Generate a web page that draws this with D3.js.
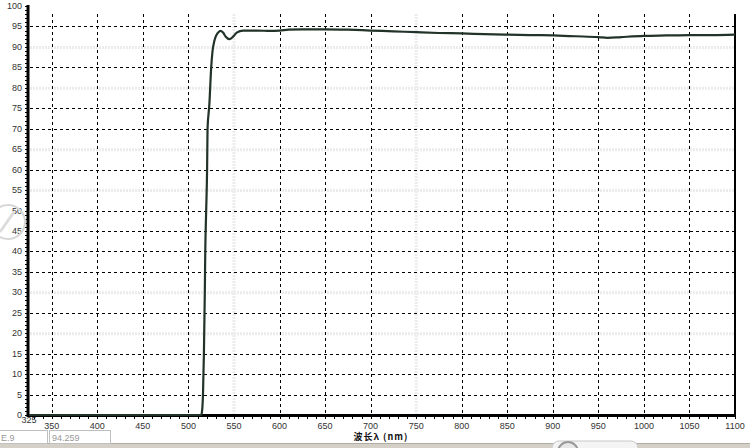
<!DOCTYPE html>
<html><head><meta charset="utf-8">
<script src="https://cdn.jsdelivr.net/npm/d3@7"></script>
<style>html,body{margin:0;padding:0;background:#fff;overflow:hidden}svg{display:block}</style>
</head><body>
<svg id="c" width="750" height="448"></svg>
<script>
// ---- data ----
const wavelength = [325,400,500,514,515,516,517,518,518.5,519.5,520.5,521,523,525,526.5,528.5,531,533,535,538,541,545,549,553,560,575,590,600,610,625,650,675,700,725,750,775,800,825,850,875,900,925,950,960,975,1000,1025,1050,1075,1100];
const transmittance = [0,0,0,0,1,5,15,30,40,50,60,70,76,85,89,91.5,93,93.6,93.9,93.5,92.5,91.9,92.5,93.5,94.0,94.0,93.9,94.0,94.2,94.3,94.3,94.2,94.0,93.8,93.6,93.4,93.3,93.1,93.0,92.9,92.8,92.6,92.4,92.2,92.4,92.7,92.8,92.9,92.9,93.0];
const xTickValues = [325,350,400,450,500,550,600,650,700,750,800,850,900,950,1000,1050,1100];
const yTickValues = [0,5,10,15,20,25,30,35,40,45,50,55,60,65,70,75,80,85,90,95,100];
const fadedXGrid = [550,750];
const fadedYGrid = [20,30,55,65,80,90];
const xTitle = "波长λ (nm)";
const statusTexts = ["E.9","94.259"];

const svg = d3.select("#c");
const x = d3.scaleLinear().domain([325,1100]).range([29,735]);
const y = d3.scaleLinear().domain([0,100]).range([415,6]);

// faded gridlines
const fg = svg.append("g");
fg.selectAll("line.fy").data(fadedYGrid).join("line")
  .attr("x1",30).attr("x2",734).attr("y1",d=>y(d)+0.5).attr("y2",d=>y(d)+0.5)
  .attr("stroke","#ececec").attr("stroke-width",3).attr("stroke-dasharray","2,1");
fg.selectAll("line.fx").data(fadedXGrid).join("line")
  .attr("x1",d=>x(d)).attr("x2",d=>x(d)).attr("y1",14).attr("y2",414)
  .attr("stroke","#ececec").attr("stroke-width",3).attr("stroke-dasharray","2,1");

// dashed gridlines
const gg = svg.append("g");
gg.selectAll("line.gy").data(yTickValues.filter(v=>v>0&&v<100&&!fadedYGrid.includes(v))).join("line")
  .attr("x1",30).attr("x2",734).attr("y1",d=>Math.round(y(d))+0.5).attr("y2",d=>Math.round(y(d))+0.5)
  .attr("stroke","#000").attr("stroke-width",1).attr("stroke-dasharray","3,3");
gg.selectAll("line.gx").data(xTickValues.filter(v=>v>325&&v<1100&&!fadedXGrid.includes(v))).join("line")
  .attr("x1",d=>Math.round(x(d))+0.5).attr("x2",d=>Math.round(x(d))+0.5).attr("y1",14).attr("y2",414)
  .attr("stroke","#000").attr("stroke-width",1).attr("stroke-dasharray","3,3");

// minor ticks
svg.append("g").selectAll("line").data(d3.range(0,101,1)).join("line")
  .attr("x1",25).attr("x2",28).attr("y1",d=>Math.round(y(d))+0.5).attr("y2",d=>Math.round(y(d))+0.5)
  .attr("stroke","#000").attr("stroke-width",1);
svg.append("g").selectAll("line").data(d3.range(330,1101,10)).join("line")
  .attr("x1",d=>Math.round(x(d))+0.5).attr("x2",d=>Math.round(x(d))+0.5).attr("y1",416).attr("y2",419)
  .attr("stroke","#000").attr("stroke-width",1);

// axes lines
svg.append("line").attr("x1",28).attr("x2",28).attr("y1",5).attr("y2",417).attr("stroke","#000").attr("stroke-width",3);
svg.append("line").attr("x1",27).attr("x2",736).attr("y1",415.5).attr("y2",415.5).attr("stroke","#000").attr("stroke-width",3);
svg.append("line").attr("x1",735).attr("x2",735).attr("y1",14).attr("y2",416).attr("stroke","#000").attr("stroke-width",2);

// tick labels
svg.append("g").selectAll("text").data(yTickValues).join("text")
  .attr("x",22).attr("y",d=>y(d)+3).attr("text-anchor","end")
  .attr("font-family","Liberation Sans, Arial, sans-serif").attr("font-size",9).attr("fill","#333")
  .text(d=>d);
svg.append("g").selectAll("text").data(xTickValues).join("text")
  .attr("x",d=>x(d)).attr("y",d=>d===325?423:429).attr("text-anchor","middle")
  .attr("font-family","Liberation Sans, Arial, sans-serif").attr("font-size",9).attr("fill","#333")
  .text(d=>d);
svg.append("text").attr("x",381).attr("y",440).attr("text-anchor","middle")
  .attr("font-family","Noto Sans CJK SC, sans-serif").attr("font-size",9).attr("font-weight","bold").attr("fill","#111")
  .attr("letter-spacing",1)
  .text(xTitle);

// curve
const line = d3.line().x((d,i)=>x(wavelength[i])).y(d=>y(d)).curve(d3.curveMonotoneX);
svg.append("path").datum(transmittance).attr("d",line)
  .attr("fill","none").attr("stroke","#22332a").attr("stroke-width",2.2).attr("stroke-linejoin","round");

// watermark circle left
svg.append("circle").attr("cx",8).attr("cy",222).attr("r",17).attr("fill","none").attr("stroke","#d8d8d8").attr("stroke-width",2);
svg.append("line").attr("x1",0).attr("x2",14).attr("y1",232).attr("y2",212).attr("stroke","#dcdcdc").attr("stroke-width",3);

// status bar
svg.append("rect").attr("x",0).attr("y",444).attr("width",750).attr("height",4).attr("fill","#d4d0c8");
svg.append("line").attr("x1",0).attr("x2",750).attr("y1",443.5).attr("y2",443.5).attr("stroke","#b0aca4");
const boxes = [[-2,47],[49,110]];
svg.append("g").selectAll("rect").data(boxes).join("rect")
  .attr("x",d=>d[0]+0.5).attr("y",430.5).attr("width",d=>d[1]-d[0]).attr("height",13)
  .attr("fill","#fff").attr("stroke","#c0c0c0");
svg.append("g").selectAll("text").data(statusTexts).join("text")
  .attr("x",(d,i)=>boxes[i][0]+3).attr("y",441)
  .attr("font-family","Liberation Sans, Arial, sans-serif").attr("font-size",9).attr("fill","#999")
  .text(d=>d);
svg.append("rect").attr("x",552).attr("y",441).attr("width",86).attr("height",14).attr("rx",7)
  .attr("fill","#f4f4f4").attr("stroke","#c8c8c8");
svg.append("circle").attr("cx",568).attr("cy",452).attr("r",10).attr("fill","#e8e8e8").attr("stroke","#999").attr("stroke-width",2);
</script>
</body></html>
